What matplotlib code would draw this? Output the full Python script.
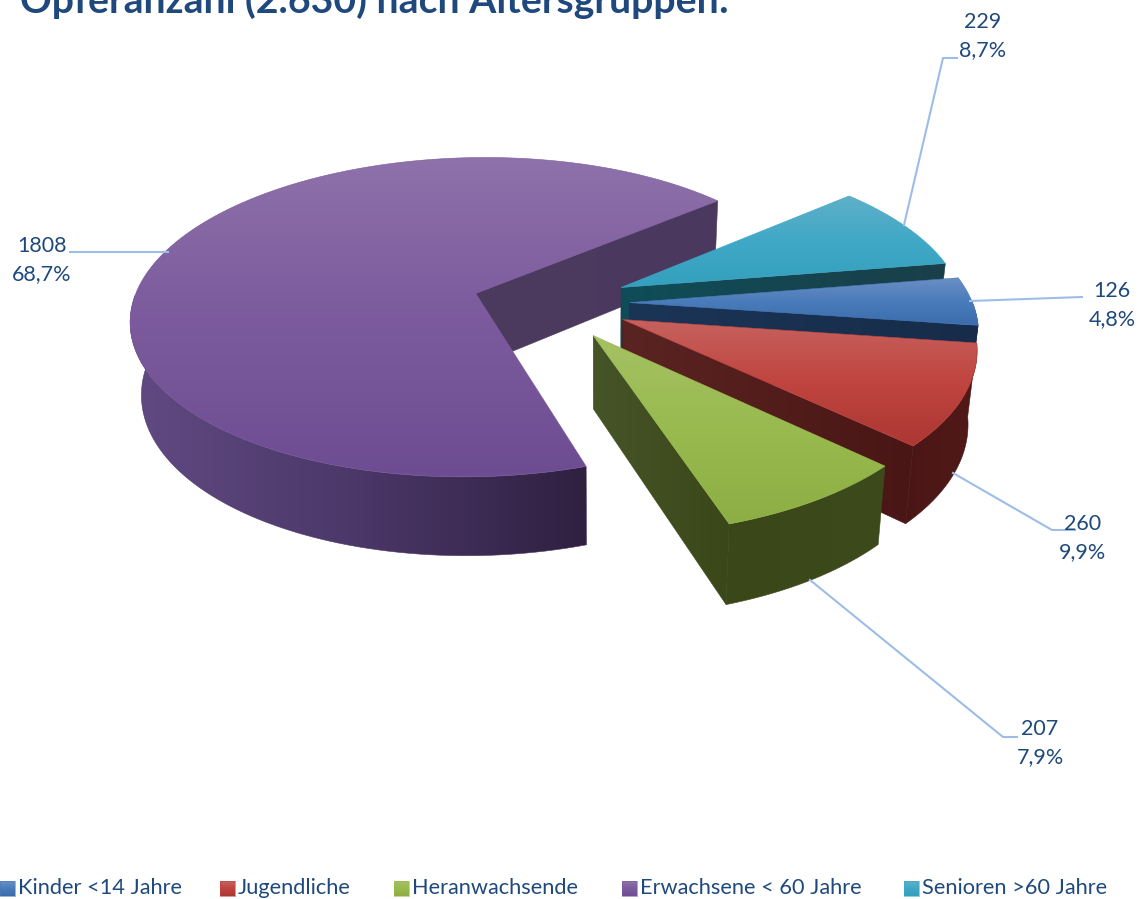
import numpy as np
import matplotlib
matplotlib.use("Agg")
import matplotlib.pyplot as plt
from matplotlib.colors import LinearSegmentedColormap
from matplotlib.patches import Polygon

plt.rcParams['font.family'] = ['Lato', 'DejaVu Sans']

title = "Opferanzahl (2.630) nach Altersgruppen:"
categories = ["Kinder <14 Jahre", "Jugendliche", "Heranwachsende", "Erwachsene < 60 Jahre", "Senioren >60 Jahre"]
values = [126, 260, 207, 1808, 229]
percent_labels = ["4,8%", "9,9%", "7,9%", "68,7%", "8,7%"]

# top colours: light, base, dark (top to bottom of each slice)
top_colours = [
    ["#6C8FC4", "#4A7CBB", "#3B6DAE"],
    ["#C6625E", "#C0443F", "#AC3733"],
    ["#A6C164", "#98BA4E", "#8DAE44"],
    ["#8E72AA", "#7C5A9D", "#6D4D92"],
    ["#5FB0C8", "#3FA8C6", "#34A0BE"],
]
# outer wall colours, left to right
wall_colours = [
    ["#1B3557", "#172C4A"],
    ["#4A1615", "#4E1817", "#521A18"],
    ["#3A4719", "#3D4A1C"],
    ["#614A82", "#4B3768", "#2F2040"],
    ["#0F4D58", "#1A3F4A"],
]
# cut faces
side_colours = [
    ["#1B3557", "#172C4A"],
    ["#5A2422", "#4A1615"],
    ["#465528", "#3A4719"],
    ["#4C3A5E", "#4B3860"],
    ["#0F4D58", "#1A3F4A"],
]

# label position, leader line
label_pos = [(1112, 305), (1083, 538), (1040, 743), (42, 260), (983, 36)]
leaders = [
    [(970, 301), (1082, 297)],
    [(953, 473), (1052, 530), (1075, 530)],
    [(810, 580), (1003, 737), (1017, 737)],
    [(70, 252), (168, 252)],
    [(904, 225), (943, 58), (957, 58)],
]
legend_x = [0, 220, 394, 622, 904]

first_angle = 9.2
explode = [0.235, 0.235, 0.235, 0.224, 0.235]
cx, cy = 549, 303
rx, ry = 343, 159
persp = 0.15
depth = 72
vanish_x = 600
shrink = 0.976
text_col = "#1F497D"
line_col = "#9DBDE6"


def project(u, v):
    s = 1 / (1 + persp * v)
    return cx + rx * u * s, cy - ry * v * s


def top_point(ang, r, mid, ex):
    # r=0 gives the apex of the exploded slice
    u = ex * np.cos(mid) + r * np.cos(ang)
    v = ex * np.sin(mid) + r * np.sin(ang)
    return project(u, v), v


def bottom(pt, v):
    s = 1 / (1 + persp * v)
    return vanish_x + (pt[0] - vanish_x) * shrink, pt[1] + depth * s ** 0.6


def grad_fill(ax, pts, colours, vertical, z):
    pts = np.array(pts)
    x0, y0 = pts.min(axis=0)
    x1, y1 = pts.max(axis=0)
    cmap = LinearSegmentedColormap.from_list("g", colours)
    g = np.linspace(0, 1, 256)
    g = g[:, None] if vertical else g[None, :]
    im = ax.imshow(g, cmap=cmap, extent=(x0, x1, y1, y0), aspect="auto", zorder=z, interpolation="bilinear")
    patch = Polygon(pts, closed=True, transform=ax.transData, fc="none", ec="none")
    ax.add_patch(patch)
    im.set_clip_path(patch)
    # thin outline so the clipped edge is not jagged
    ax.add_patch(Polygon(pts, closed=True, fc="none", ec=colours[len(colours) // 2], lw=0.4, zorder=z))


def side_wall(ax, ang, mid, ex, colours, z):
    a, va = top_point(ang, 0, mid, ex)
    e, ve = top_point(ang, 1, mid, ex)
    m, vm = top_point(mid, 1, mid, ex)
    dx, dy = e[0] - a[0], e[1] - a[1]
    mx, my = m[0] - a[0], m[1] - a[1]
    if dx * my - dy * mx >= 0:
        return
    grad_fill(ax, [a, e, bottom(e, ve), bottom(a, va)], colours, False, z)


fig = plt.figure(figsize=(11.4, 8.99), dpi=100)
ax = fig.add_axes([0, 0, 1, 1])

fracs = np.array(values) / sum(values) * 360
ends = first_angle - np.cumsum(fracs)
starts = ends + fracs

z = 2
for i in [3, 4, 0, 1, 2]:
    a0 = np.radians(starts[i])
    a1 = np.radians(ends[i])
    mid = (a0 + a1) / 2
    angs = np.linspace(a0, a1, 160)
    ex = explode[i]

    top = [top_point(a, 1, mid, ex)[0] for a in angs]
    apex = top_point(0, 0, mid, ex)[0]

    # outer wall, only the part facing the viewer
    front = [a for a in angs if np.sin(a) < 0.01]
    if front:
        upper = [top_point(a, 1, mid, ex) for a in front]
        lower = [bottom(p, v) for p, v in upper]
        grad_fill(ax, [p for p, v in upper] + lower[::-1], wall_colours[i], False, z)

    side_wall(ax, a0, mid, ex, side_colours[i], z + 0.1)
    side_wall(ax, a1, mid, ex, side_colours[i], z + 0.1)
    grad_fill(ax, [apex] + top, top_colours[i], True, z + 0.2)
    z += 1

for i in range(len(values)):
    lx, ly = label_pos[i]
    ax.text(lx, ly, str(values[i]) + "\n" + percent_labels[i], color=text_col, fontsize=15.5,
            ha="center", va="center", linespacing=1.5, zorder=20)
    xs, ys = zip(*leaders[i])
    ax.plot(xs, ys, color=line_col, lw=1.5, zorder=19)
    grad_fill(ax, [(legend_x[i], 881), (legend_x[i] + 15, 881), (legend_x[i] + 15, 896), (legend_x[i], 896)],
              top_colours[i], True, 20)
    ax.text(legend_x[i] + 18, 888, categories[i], color=text_col, fontsize=15.7, va="center", ha="left")

ax.text(20, 13, title, color=text_col, fontsize=28.3, fontweight="bold", ha="left", va="baseline")

ax.set_xlim(0, 1140)
ax.set_ylim(899, 0)
ax.axis("off")
fig.savefig("out.png", dpi=100)
